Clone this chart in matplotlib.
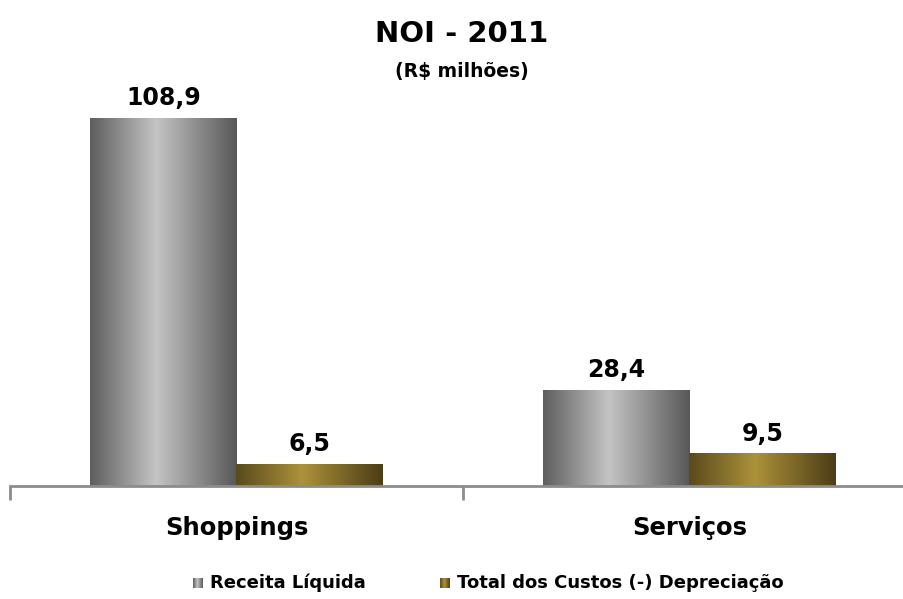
import numpy as np
import matplotlib
matplotlib.use("Agg")
import matplotlib.pyplot as plt
from matplotlib.colors import LinearSegmentedColormap

categories = ["Shoppings", "Serviços"]
series_names = ["Receita Líquida", "Total dos Custos (-) Depreciação"]
receita = [108.9, 28.4]
custos = [6.5, 9.5]
value_labels = [["108,9", "28,4"], ["6,5", "9,5"]]

gray_cmap = LinearSegmentedColormap.from_list(
    "gray_cyl", [(0, "#5e5e5e"), (0.45, "#c4c4c4"), (1, "#585858")])
gold_cmap = LinearSegmentedColormap.from_list(
    "gold_cyl", [(0, "#594a1c"), (0.45, "#ac923a"), (1, "#4b3d16")])

W, H = 904, 599
fig = plt.figure(figsize=(W / 100, H / 100), dpi=100)

# axes placed in pixel terms: left 10, bottom at y=486 from top
ax_left, ax_right = 10, 904
ax_bottom, ax_top = 486, 86
ax = fig.add_axes([ax_left / W, (H - ax_bottom) / H,
                   (ax_right - ax_left) / W, (ax_bottom - ax_top) / H])

px_per_unit = (486 - 118) / 108.9
x_lim = (-0.5, -0.5 + (ax_right - ax_left) / 453)
y_lim = (0, (ax_bottom - ax_top) / px_per_unit)

x = np.arange(len(categories))
bw = 0.323
grad = np.linspace(0, 1, 256).reshape(1, -1)

bars1 = ax.bar(x - bw / 2, receita, bw, color="none", edgecolor="none")
bars2 = ax.bar(x + bw / 2, custos, bw, color="none", edgecolor="none")

for bars, cmap, labels in [(bars1, gray_cmap, value_labels[0]),
                           (bars2, gold_cmap, value_labels[1])]:
    for b, lab in zip(bars, labels):
        x0, w, h = b.get_x(), b.get_width(), b.get_height()
        ax.imshow(grad, cmap=cmap, aspect="auto",
                  extent=(x0, x0 + w, 0, h), zorder=2)
        ax.text(x0 + w / 2, h + 2.4, lab, ha="center", va="bottom",
                fontsize=17, fontweight="bold", color="black")

for s in ["top", "right", "left"]:
    ax.spines[s].set_visible(False)
ax.spines["bottom"].set_color("#8c8c8c")
ax.spines["bottom"].set_linewidth(2)
ax.set_yticks([])
ax.set_xticks([-0.5, 0.5, 1.5])
ax.set_xticklabels([])
ax.tick_params(axis="x", direction="out", length=10, width=2, color="#8c8c8c")
ax.set_xlim(*x_lim)
ax.set_ylim(*y_lim)
for xi, cat in zip(x, categories):
    ax.text(xi, -12.3, cat, ha="center", va="center", fontsize=17.5,
            fontweight="bold", clip_on=False)

fig.text(462 / W, 1 - 34 / H, "NOI - 2011", ha="center", va="center",
         fontsize=21, fontweight="bold")
fig.text(462 / W, 1 - 72 / H, "(R$ milhões)", ha="center", va="center",
         fontsize=13.5, fontweight="bold")

# legend
leg_y = 583
for sx, tx, cmap, name in [(193, 210, gray_cmap, series_names[0]),
                           (440, 457, gold_cmap, series_names[1])]:
    lax = fig.add_axes([sx / W, (H - leg_y - 5) / H, 10 / W, 10 / H])
    lax.imshow(grad, cmap=cmap, aspect="auto")
    lax.axis("off")
    fig.text(tx / W, 1 - leg_y / H, name, ha="left", va="center",
             fontsize=13, fontweight="bold")

fig.savefig("out.png", dpi=100)
